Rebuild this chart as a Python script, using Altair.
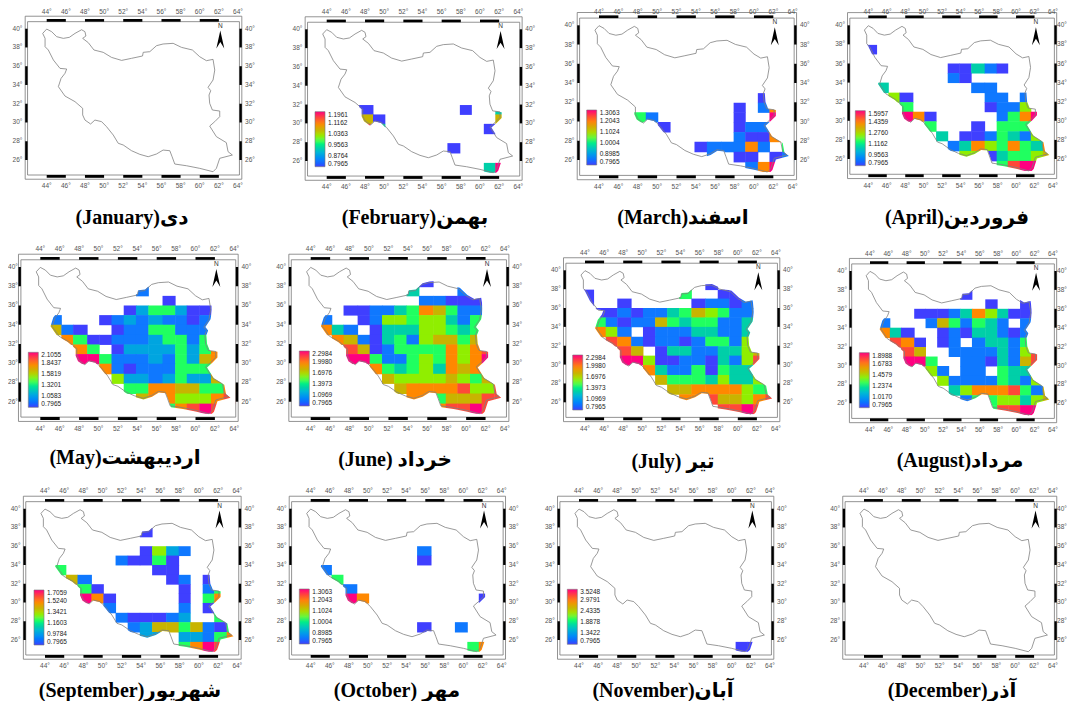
import altair as alt
import pandas as pd

# Iran outline, lon / lat
OUTLINE_LON = [43.58,44.0,44.52,45.04,45.74,46.37,46.96,47.65,48.0,48.10,47.76,48.35,48.94,49.91,50.78,51.83,52.87,54.02,54.09,54.78,55.48,56.17,57.22,58.09,59.23,60.0,60.70,61.39,61.57,61.39,60.87,61.15,60.97,61.04,61.32,62.09,62.09,61.57,61.04,61.74,62.78,62.96,63.41,62.09,61.74,61.39,60.0,58.61,57.39,57.11,56.87,56.17,55.48,54.61,53.74,52.87,52.0,51.48,50.96,50.26,49.74,49.04,48.59,48.0,47.76,47.76,46.96,45.91,45.22,45.50,45.91,46.09,45.39,44.70,44.17,43.83,43.83,43.58]
OUTLINE_LAT = [39.50,39.96,39.68,39.15,38.97,39.08,39.50,39.89,39.68,39.22,38.97,38.51,37.73,37.48,36.94,36.62,36.84,37.09,37.48,37.55,38.19,38.37,38.44,38.01,37.73,37.01,36.59,36.73,35.59,34.53,33.75,33.39,32.93,32.04,31.33,31.22,30.62,30.09,29.62,28.49,27.85,26.89,26.53,26.18,25.11,24.75,25.11,25.39,25.57,26.35,26.99,27.06,26.64,26.35,26.60,26.99,27.60,27.78,28.66,29.55,30.09,30.26,29.84,30.26,30.80,31.51,32.22,32.82,33.82,34.70,35.24,35.70,35.77,36.66,37.73,38.08,38.97,39.50]

# grid cell edges of the raster
LON_EDGES = [43.65,44.9,46.17,47.38,48.83,50.07,51.34,52.6,53.86,55.14,56.6,57.9,59.1,60.4,61.6,62.9,64.1]
LAT_EDGES = [38.9,37.95,37,36,35,34,32.95,31.95,30.95,29.95,28.9,27.9,26.85,25.8,24.8]

COLORS = ["#3f3fff","#0f78ff","#00a5e0","#00cfa8","#20ff60","#90ee00","#c8b400","#ff8800","#ff4838","#ff0080"]

# colour level (0-9) read for each cell: row index -> 16 columns
FEB = {7:"...0.......0..3", 8:"...60.........6", 9:"...83........0", 11:"..........0", 13:".............39"}
MAR = {6:".............0", 7:"...........0.17", 8:"...41......0..9", 9:".....0.....011",
       10:"...........1007", 11:"........011171.4", 12:".........1.00.01", 13:"............179"}
APR = {1:"0", 3:".......00310", 4:".......10", 5:".3.......11", 6:"..50......11.1", 7:"...4......0115",
       8:"...970.....1479", 9:".....4...0.444", 10:"......3.0014315", 11:".......137547437",
       12:"........55034456", 13:"...........4899"}
MAY = {1:"........1", 2:"..........0", 3:".......0244200", 4:".1...012121101", 5:".610..01144111",
       6:"..740011124414", 7:"...74.022224247", 8:"...994111214267", 9:".....710111444",
       10:"......522124226", 11:".......447766447", 12:"........67755578", 13:"..........47898"}
JUN = {0:".........0", 1:"........3...1", 2:".........11000", 3:"...00113476411", 4:".1..0155455314",
       5:".731.033355434", 6:"..761034156646", 7:"...860144447578", 8:"...994114547579",
       9:".....7434537676", 10:"......655556546", 11:".......677778558", 12:"........77466688",
       13:"..........78898"}
JUL = {0:"..........0", 1:"0.......4..00", 2:"0..0.....01101", 3:".0010113465411", 4:".4101164344113",
       5:".751.011133113", 6:"..871011014415", 7:"...86.033113356", 8:"...995001103158",
       9:".....731140433", 10:"......644435335", 11:".......667777544", 12:"........77866578",
       13:"...........8898"}
AUG = {1:"........0", 2:"..........0..0", 3:"....0001375300", 4:".1...1641431.1", 5:".730..01033101",
       6:"..870.01.13314", 7:"...86..11113158", 8:"...994..1103168", 9:".....51.11.433",
       10:"......511114315", 11:".......357778416", 12:"........14455356", 13:"..........48899"}
SEP = {1:"........0", 3:"........0521", 4:"......10040", 5:".4.......00", 6:"..61......01.0",
       7:"...40......0.14", 8:"...970.....0.47", 9:".....1.....1.0", 10:"......100012..4",
       11:".......126646104", 12:"........22.22147", 13:"...........4798"}
OCT = {3:".........1", 4:".........0", 5:".1", 6:"..4", 7:"...1", 8:"...97.........0",
       11:".........0..1", 13:".............47"}
NOV = {13:".............00"}

# legend labels, top to bottom
T_FEB = [1.1961,1.1162,1.0363,0.9563,0.8764,0.7965]
T_MAR = [1.3063,1.2043,1.1024,1.0004,0.8985,0.7965]
T_APR = [1.5957,1.4359,1.2760,1.1162,0.9563,0.7965]
T_MAY = [2.1055,1.8437,1.5819,1.3201,1.0583,0.7965]
T_JUN = [2.2984,1.9980,1.6976,1.3973,1.0969,0.7965]
T_AUG = [1.8988,1.6783,1.4579,1.2374,1.0170,0.7965]
T_SEP = [1.7059,1.5240,1.3421,1.1603,0.9784,0.7965]
T_NOV = [3.5248,2.9791,2.4335,1.8878,1.3422,0.7965]

TITLES = ["(January)دی","(February)بهمن","(March)اسفند","(April)فروردین",
          "(May)اردیبهشت","(June) خرداد","(July) تیر","(August)مرداد",
          "(September)شهریور","(October) مهر","(November)آبان","(December)آذر"]
GRIDS = [None,FEB,MAR,APR,MAY,JUN,JUL,AUG,SEP,OCT,NOV,None]
TICKS = [None,T_FEB,T_MAR,T_APR,T_MAY,T_JUN,T_JUN,T_AUG,T_SEP,T_MAR,T_NOV,None]

# page layout: x of 44E, x of 64E, y of 40N, y of 26N, title centre x,y, legend left, top
# (the last column is a little narrower so its right-hand labels stay on the page)
LAYOUT = [
 (46.7,238,28.7,160,132,218,0,0),
 (326.7,518.3,29.3,161,415,218,315,111.7),
 (599,792.7,25.3,160,683,218,586.7,110),
 (868.3,1053,25.3,159,957,218,855.3,110.7),
 (40.3,234.3,267,401.7,125,458,28.3,352.3),
 (310.7,505,267,401.7,395,460,299.3,351),
 (585,776,270.3,402.3,673,462,572.7,355),
 (870,1053,271,403.3,960,461,859.3,352.7),
 (45,237.3,508.7,640,130,691,34,590),
 (310.7,501.7,508.7,640,397,691,299.3,589),
 (579,770,508.7,640,663,691,567.3,589.3),
 (864,1053,508.7,640,952,691,0,0),
]
CELL_W, CELL_H = 264, 232
LEFT, RIGHT, TOP, BOTTOM = 42.0, 64.15, 40.75, 24.4
O_LEFT, O_RIGHT, O_TOP, O_BOTTOM = 41.75, 64.4, 41.33, 23.95
BAR_TOP, BAR_BOTTOM = 41.03, 24.1

LON_TICKS = list(range(44, 66, 2))
LAT_TICKS = list(range(26, 42, 2))

ol = pd.DataFrame({"lon": OUTLINE_LON, "lat": OUTLINE_LAT})
ol["i"] = range(len(ol))

# white mask outside a slightly enlarged outline, so the raster follows the border
cx, cy = 53.5, 32.5
ring = [(LEFT, TOP), (LEFT, BOTTOM), (RIGHT, BOTTOM), (RIGHT, TOP), (LEFT, TOP)]
ring += [(cx + (a - cx) * 1.02, cy + (b - cy) * 1.02) for a, b in zip(OUTLINE_LON, OUTLINE_LAT)]
ring += [(LEFT, TOP)]
mask = pd.DataFrame(ring, columns=["lon", "lat"])
mask["i"] = range(len(mask))

bars = []
for a in LON_TICKS[:-1:2]:
    bars.append((a, a + 2, BAR_TOP, TOP))
    bars.append((a, a + 2, BOTTOM, BAR_BOTTOM))
for b in LAT_TICKS[::2]:
    bars.append((O_LEFT, LEFT, b, b + 2))
    bars.append((RIGHT, O_RIGHT, b, b + 2))
bars = pd.DataFrame(bars, columns=["a", "a2", "b", "b2"])

frames = pd.DataFrame([(O_LEFT, O_RIGHT, O_TOP, O_BOTTOM, 0), (LEFT, RIGHT, TOP, BOTTOM, 1)],
                      columns=["a", "a2", "b", "b2", "k"])
ARROW = "M0,-1 L0.44,1 L0,0.28 L-0.44,1 Z"
SEAM = 0.05  # cells overlap slightly so that no hairline shows between them


def cells(grid, ticks):
    lo, hi = ticks[-1], ticks[0]
    rows = []
    for r, s in grid.items():
        for c, ch in enumerate(s):
            if ch != ".":
                rows.append((LON_EDGES[c], LON_EDGES[c + 1] + SEAM, LAT_EDGES[r], LAT_EDGES[r + 1] - SEAM,
                             lo + int(ch) / 9 * (hi - lo)))
    return pd.DataFrame(rows, columns=["a", "a2", "b", "b2", "v"])


def tick_labels(x44, x64, y40, y26):
    # outer labels stay inside the page
    kx = (x64 - x44) / 20
    ky = (y26 - y40) / 14
    top = 40 + (y40 - max(y40 - 1.85 * ky, 11.8)) / ky
    left = 44 - (x44 - max(x44 - 3.05 * kx, 13.0)) / kx
    right = 64 + (min(x64 + 1.25 * kx, 1062) - x64) / kx
    rows = []
    for a in LON_TICKS:
        rows.append((a, top, f"{a}°"))
        rows.append((a, 23.2, f"{a}°"))
    for b in LAT_TICKS:
        rows.append((left, b, f"{b}°"))
        rows.append((right, b, f"{b}°"))
    return pd.DataFrame(rows, columns=["a", "b", "t"])


def panel(n):
    x44, x64, y40, y26, tx, ty, lx, ly = LAYOUT[n]
    col, row = n % 4, n // 4
    ox, oy = 8 + CELL_W * col, 8 + CELL_H * row
    xs = alt.Scale(domain=[44, 64], range=[x44 - ox, x64 - ox], nice=False, zero=False)
    ys = alt.Scale(domain=[26, 40], range=[y26 - oy, y40 - oy], nice=False, zero=False)
    X = lambda f: alt.X(f"{f}:Q", scale=xs, axis=None)
    Y = lambda f: alt.Y(f"{f}:Q", scale=ys, axis=None)
    layers = []
    if GRIDS[n]:
        ticks = TICKS[n]
        lo, hi = ticks[-1], ticks[0]
        stops = [lo + i / 9 * (hi - lo) for i in range(10)]
        cs = alt.Scale(domain=stops, range=COLORS)
        layers.append(alt.Chart(cells(GRIDS[n], ticks)).mark_rect().encode(
            x=X("a"), x2="a2:Q", y=Y("b"), y2="b2:Q",
            color=alt.Color("v:Q", scale=cs,
                            legend=alt.Legend(orient="none", legendX=lx - ox, legendY=ly - oy,
                                              title=None, values=ticks, format=".4f", gradientLength=55,
                                              gradientThickness=10, gradientStrokeColor="#777",
                                              gradientStrokeWidth=0.6, labelFontSize=6.5,
                                              labelFont="Liberation Sans", labelColor="#222",
                                              labelOffset=3, labelOverlap=False, padding=0))))
        layers.append(alt.Chart(mask).mark_line(fill="white", stroke="white", strokeWidth=0).encode(
            x=X("lon"), y=Y("lat"), order="i:Q"))
    layers.append(alt.Chart(ol).mark_line(color="#808080", strokeWidth=0.8).encode(
        x=X("lon"), y=Y("lat"), order="i:Q"))
    layers.append(alt.Chart(frames).mark_rect(fillOpacity=0, stroke="#777", strokeWidth=0.8).encode(
        x=X("a"), x2="a2:Q", y=Y("b"), y2="b2:Q"))
    layers.append(alt.Chart(bars).mark_rect(color="black").encode(
        x=X("a"), x2="a2:Q", y=Y("b"), y2="b2:Q"))
    layers.append(alt.Chart(tick_labels(x44, x64, y40, y26)).mark_text(
        font="Liberation Sans", fontSize=6.5, color="#555").encode(x=X("a"), y=Y("b"), text="t:N"))
    layers.append(alt.Chart(pd.DataFrame({"a": [62.15], "b": [38.85]})).mark_point(
        shape=ARROW, size=324, filled=True, color="black", opacity=1).encode(x=X("a"), y=Y("b")))
    layers.append(alt.Chart(pd.DataFrame({"a": [62.15], "b": [40.3], "t": ["N"]})).mark_text(
        font="Liberation Sans", fontSize=6.5, color="#333").encode(x=X("a"), y=Y("b"), text="t:N"))
    layers.append(alt.Chart(pd.DataFrame({"t": [TITLES[n]]})).mark_text(
        font="Liberation Serif, DejaVu Sans", fontSize=20, fontWeight="bold", color="black").encode(
        x=alt.value(tx - ox), y=alt.value(ty - oy), text="t:N"))
    return alt.layer(*layers).properties(width=CELL_W, height=CELL_H)


chart = (alt.concat(*[panel(n) for n in range(12)], columns=4, spacing=0, bounds="flush")
         .resolve_scale(color="independent")
         .resolve_legend(color="independent")
         .properties(autosize=alt.AutoSizeParams(type="none"),
                     padding={"left": 0, "top": 0, "right": 1059, "bottom": 693})
         .configure_view(strokeWidth=0))
chart.save("out.html", embed_options={"renderer": "svg", "actions": False})
